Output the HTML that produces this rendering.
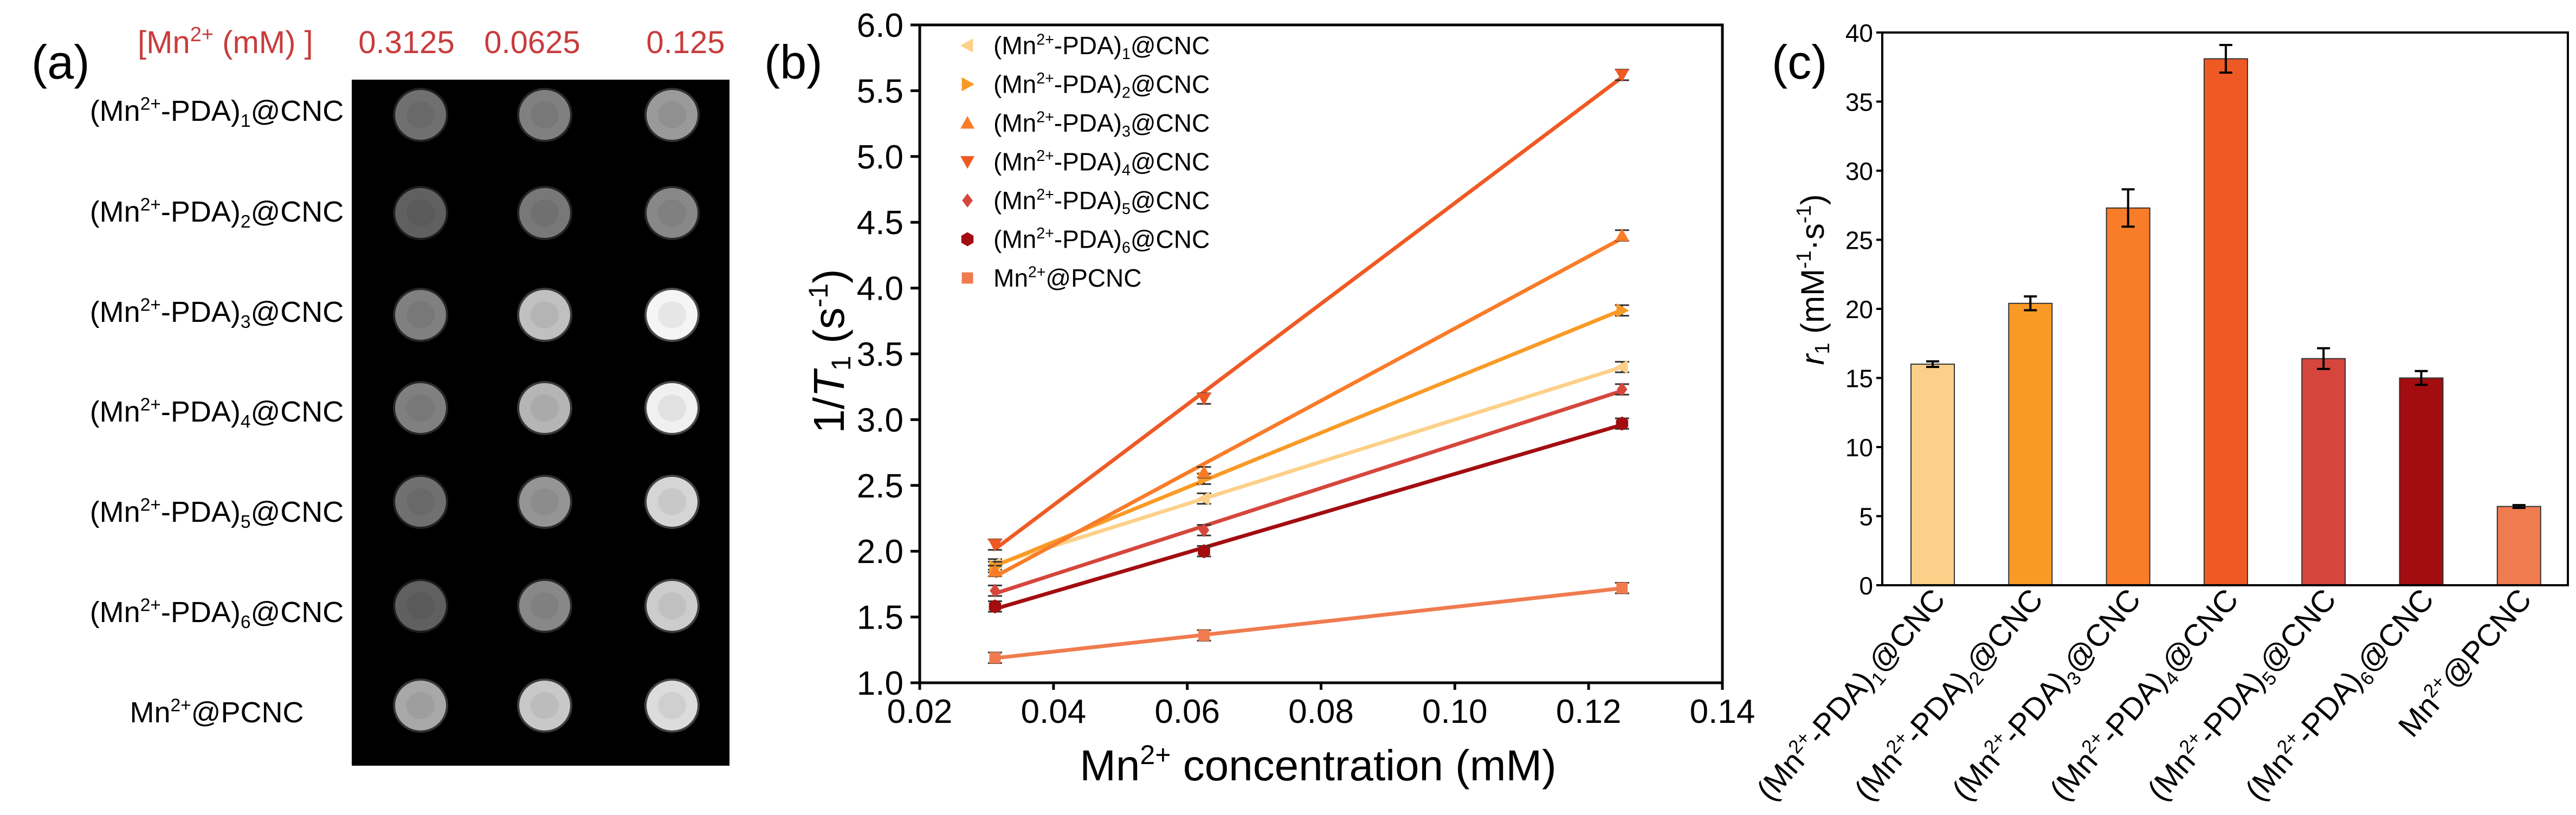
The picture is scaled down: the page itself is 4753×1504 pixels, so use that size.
<!DOCTYPE html>
<html><head><meta charset="utf-8"><style>
html,body{margin:0;padding:0;background:#fff;}
svg{display:block;font-family:"Liberation Sans",Arial,sans-serif;}
.nar{font-family:"Liberation Sans Narrow","Liberation Sans",sans-serif;}
</style></head><body>
<svg id="fig" width="4753" height="1504" viewBox="0 0 4753 1504" xmlns="http://www.w3.org/2000/svg">
<g id="pa">
<text x="58" y="145" font-size="88">(a)</text>
<text x="254" y="98" font-size="58" fill="#c83c3c">[Mn<tspan dy="-22" font-size="38">2+</tspan><tspan dy="22"> (mM) ]</tspan></text>
<text x="750" y="98" font-size="58" fill="#c83c3c" text-anchor="middle">0.3125</text>
<text x="982" y="98" font-size="58" fill="#c83c3c" text-anchor="middle">0.0625</text>
<text x="1265" y="98" font-size="58" fill="#c83c3c" text-anchor="middle">0.125</text>
<rect x="649" y="147" width="697" height="1266" fill="#000"/>
</g>
<g id="pb"></g>
<g id="pc"></g>
</svg>
<script>
const NS="http://www.w3.org/2000/svg";
// ---- panel a data ----
const aRowLabels=["1","2","3","4","5","6","P"];
const aSpotGray=[[0x70,0x80,0x9a],[0x60,0x78,0x88],[0x80,0xc0,0xf5],[0x80,0xb5,0xf0],[0x70,0x95,0xd5],[0x60,0x88,0xcc],[0xa8,0xc8,0xdc]];
// ---- panel b data ----
const bX=[0.03125,0.0625,0.125];
const bS1=[1.90,2.40,3.40];
const bS2=[1.88,2.55,3.83];
const bS3=[1.85,2.60,4.40];
const bS4=[2.05,3.16,5.62];
const bS5=[1.70,2.16,3.23];
const bS6=[1.58,2.00,2.97];
const bS7=[1.19,1.36,1.72];
const bErr=[0.04,0.04,0.04];
const bXTicks=[0.02,0.04,0.06,0.08,0.10,0.12,0.14];
const bXTickLabels=["0.02","0.04","0.06","0.08","0.10","0.12","0.14"];
const bYTicks=[1.0,1.5,2.0,2.5,3.0,3.5,4.0,4.5,5.0,5.5,6.0];
// ---- panel c data ----
const cCats=["1","2","3","4","5","6","P"];
const cVals=[16.0,20.4,27.3,38.1,16.4,15.0,5.7];
const cErrs=[0.2,0.5,1.35,1.0,0.75,0.5,0.1];
const cYTicks=[0,5,10,15,20,25,30,35,40];

function el(tag,attrs,parent){const e=document.createElementNS(NS,tag);for(const k in attrs)e.setAttribute(k,attrs[k]);parent.appendChild(e);return e;}
function tsp(parent,txt,dy,fs){const t=document.createElementNS(NS,"tspan");if(dy)t.setAttribute("dy",dy);if(fs)t.setAttribute("font-size",fs);t.textContent=txt;parent.appendChild(t);return t;}
function compLabel(t,code,fs){
  const s=fs*0.62,up=fs*0.38,dn=fs*0.2;
  if(code==="P"){t.appendChild(document.createTextNode("Mn"));tsp(t,"2+",-up,s);tsp(t,"@PCNC",up,fs);}
  else{t.appendChild(document.createTextNode("(Mn"));tsp(t,"2+",-up,s);tsp(t,"-PDA)",up,fs);tsp(t,code,dn,s);tsp(t,"@CNC",-dn,fs);}
}
// ---- panel a ----
const pa=document.getElementById("pa");
const rowY=[203,389,574,758,943,1128,1313];
const spotY=[212,393,581,753,926,1118,1302];
const colX=[776,1005,1240];
aRowLabels.forEach((c,i)=>{
  const t=el("text",{x:400,y:rowY[i]+20,"font-size":54,"text-anchor":"middle"},pa);
  
  
  compLabel(t,c,54);
  aSpotGray[i].forEach((g,j)=>{
    const col="rgb("+g+","+g+","+g+")";
    const gg=el("g",{},pa);
    
    
    el("ellipse",{cx:colX[j],cy:spotY[i],rx:51,ry:50,fill:col,opacity:0.3},gg);
    el("ellipse",{cx:colX[j],cy:spotY[i],rx:47,ry:46,fill:col},gg);
    el("ellipse",{cx:colX[j],cy:spotY[i],rx:26,ry:25,fill:"#000",opacity:0.06},gg);
  });
});
// ---- panel b ----
const pb=document.getElementById("pb");
const bx0=1697,bx1=3178,by0=1260,by1=46;
const xs=v=>bx0+(v-0.02)/(0.12)*(bx1-bx0);
const ys=v=>by0-(v-1)/5*(by0-by1);
el("text",{x:1410,y:145,"font-size":88},pb).textContent="(b)";

const series=[bS1,bS2,bS3,bS4,bS5,bS6,bS7];
const cols=["#fdd089","#fa9a26","#f97c29","#ef5a24","#d6463c","#a30d10","#f07b4f"];
const marks=["left","right","up","down","diamond","hex","square"];
const legCodes=["1","2","3","4","5","6","P"];
function marker(g,type,x,y,r,c){
  let p;
  if(type==="left")p=`${x-r},${y} ${x+r*0.8},${y-r} ${x+r*0.8},${y+r}`;
  else if(type==="right")p=`${x+r},${y} ${x-r*0.8},${y-r} ${x-r*0.8},${y+r}`;
  else if(type==="up")p=`${x},${y-r} ${x-r},${y+r*0.8} ${x+r},${y+r*0.8}`;
  else if(type==="down")p=`${x},${y+r} ${x-r},${y-r*0.8} ${x+r},${y-r*0.8}`;
  else if(type==="diamond")p=`${x},${y-r} ${x+r*0.75},${y} ${x},${y+r} ${x-r*0.75},${y}`;
  else if(type==="hex"){const a=[];for(let k=0;k<6;k++){const t=Math.PI/3*k+Math.PI/6;a.push((x+r*Math.cos(t))+","+(y+r*Math.sin(t)));}p=a.join(" ");}
  else {return el("rect",{x:x-r*0.8,y:y-r*0.8,width:r*1.6,height:r*1.6,fill:c},g);}
  return el("polygon",{points:p,fill:c},g);
}
series.forEach((s,i)=>{
  const g=el("g",{},pb);
  
  
  const n=bX.length;let mx=0,my=0;for(let k=0;k<n;k++){mx+=bX[k];my+=s[k];}mx/=n;my/=n;
  let sxy=0,sxx=0;for(let k=0;k<n;k++){sxy+=(bX[k]-mx)*(s[k]-my);sxx+=(bX[k]-mx)**2;}
  const m=sxy/sxx,b=my-m*mx;
  const ln=el("line",{x1:xs(bX[0]),y1:ys(m*bX[0]+b),x2:xs(bX[n-1]),y2:ys(m*bX[n-1]+b),stroke:cols[i],"stroke-width":7},g);
  
  
  s.forEach((v,k)=>{
    const x=xs(bX[k]);
    const eb=el("path",{d:`M${x-13},${ys(v+bErr[k])}H${x+13}M${x},${ys(v+bErr[k])}V${ys(v-bErr[k])}M${x-13},${ys(v-bErr[k])}H${x+13}`,stroke:"#333","stroke-width":3,fill:"none"},g);
    
    
    const mk=marker(g,marks[i],x,ys(v),13,cols[i]);
    
    
  });
  const ly=84+i*71.5;
  const lm=marker(pb,marks[i],1785,ly,13,cols[i]);
  
  
  const lt=el("text",{x:1833,y:ly+16,"font-size":46,class:"nar"},pb);
  
  
  compLabel(lt,legCodes[i],46);
});
const fb=el("rect",{x:bx0,y:by1,width:bx1-bx0,height:by0-by1,fill:"none",stroke:"#000","stroke-width":5},pb);

bYTicks.forEach(v=>{
  el("line",{x1:1680,x2:bx0,y1:ys(v),y2:ys(v),stroke:"#000","stroke-width":5},pb);
  const t=el("text",{x:1667,y:ys(v)+22,"font-size":62,"text-anchor":"end"},pb);
  t.textContent=v.toFixed(1);
  
  
});
bXTicks.forEach((v,k)=>{
  el("line",{x1:xs(v),x2:xs(v),y1:by0,y2:1273,stroke:"#000","stroke-width":5},pb);
  const t=el("text",{x:xs(v),y:1334,"font-size":62,"text-anchor":"middle"},pb);
  t.textContent=bXTickLabels[k];
  
  
});
const xt=el("text",{x:2432,y:1440,"font-size":80,"text-anchor":"middle",class:"nar"},pb);

xt.appendChild(document.createTextNode("Mn"));tsp(xt,"2+",-30,50);tsp(xt," concentration (mM)",30,80);
const yt=el("text",{x:0,y:0,"font-size":80,"text-anchor":"middle",transform:"translate(1557,648) rotate(-90)"},pb);

yt.appendChild(document.createTextNode("1/"));const tT=tsp(yt,"T");tT.setAttribute("font-style","italic");tsp(yt,"1",12,50);tsp(yt," (s",-12,80);tsp(yt,"-1",-30,50);tsp(yt,")",30,80);
// ---- panel c ----
const pc=document.getElementById("pc");
const cx0=3473,cx1=4738,cy0=1080,cy1=60;
const cys=v=>cy0-v/40*(cy0-cy1);
const cxs=i=>3566+i*180.3;
const cl=el("text",{x:3269,y:145,"font-size":88},pc);cl.textContent="(c)";

cVals.forEach((v,i)=>{
  const r=el("rect",{x:cxs(i)-40,y:cys(v),width:80,height:cy0-cys(v),fill:cols[i],stroke:"#333","stroke-width":2},pc);
  
  
  const x=cxs(i),t=cys(v+cErrs[i]),b=cys(v-cErrs[i]);
  const e=el("path",{d:`M${x-12},${t}H${x+12}M${x},${t}V${b}M${x-12},${b}H${x+12}`,stroke:"#000","stroke-width":4,fill:"none"},pc);
  
  
  const lt=el("text",{x:0,y:0,"font-size":57,"text-anchor":"end",transform:`translate(${x+26},${1108}) rotate(-49)`},pc);
  
  
  compLabel(lt,cCats[i],57);
});
const fc=el("path",{d:`M${cx0},${cy1}H${cx1}V${cy0}H${cx0}Z`,fill:"none",stroke:"#000","stroke-width":4},pc);

cYTicks.forEach(v=>{
  el("line",{x1:3462,x2:cx0,y1:cys(v),y2:cys(v),stroke:"#000","stroke-width":4},pc);
  const t=el("text",{x:3456,y:cys(v)+17,"font-size":46,"text-anchor":"end"},pc);
  t.textContent=v;
  
  
});
const cyt=el("text",{x:0,y:0,"font-size":60,"text-anchor":"middle",transform:"translate(3365,516) rotate(-90)"},pc);

const rr=tsp(cyt,"r");rr.setAttribute("font-style","italic");tsp(cyt,"1",10,38);tsp(cyt," (mM",-10,60);tsp(cyt,"-1",-24,38);tsp(cyt,"·s",24,60);tsp(cyt,"-1",-24,38);tsp(cyt,")",24,60);
</script>
</body></html>
